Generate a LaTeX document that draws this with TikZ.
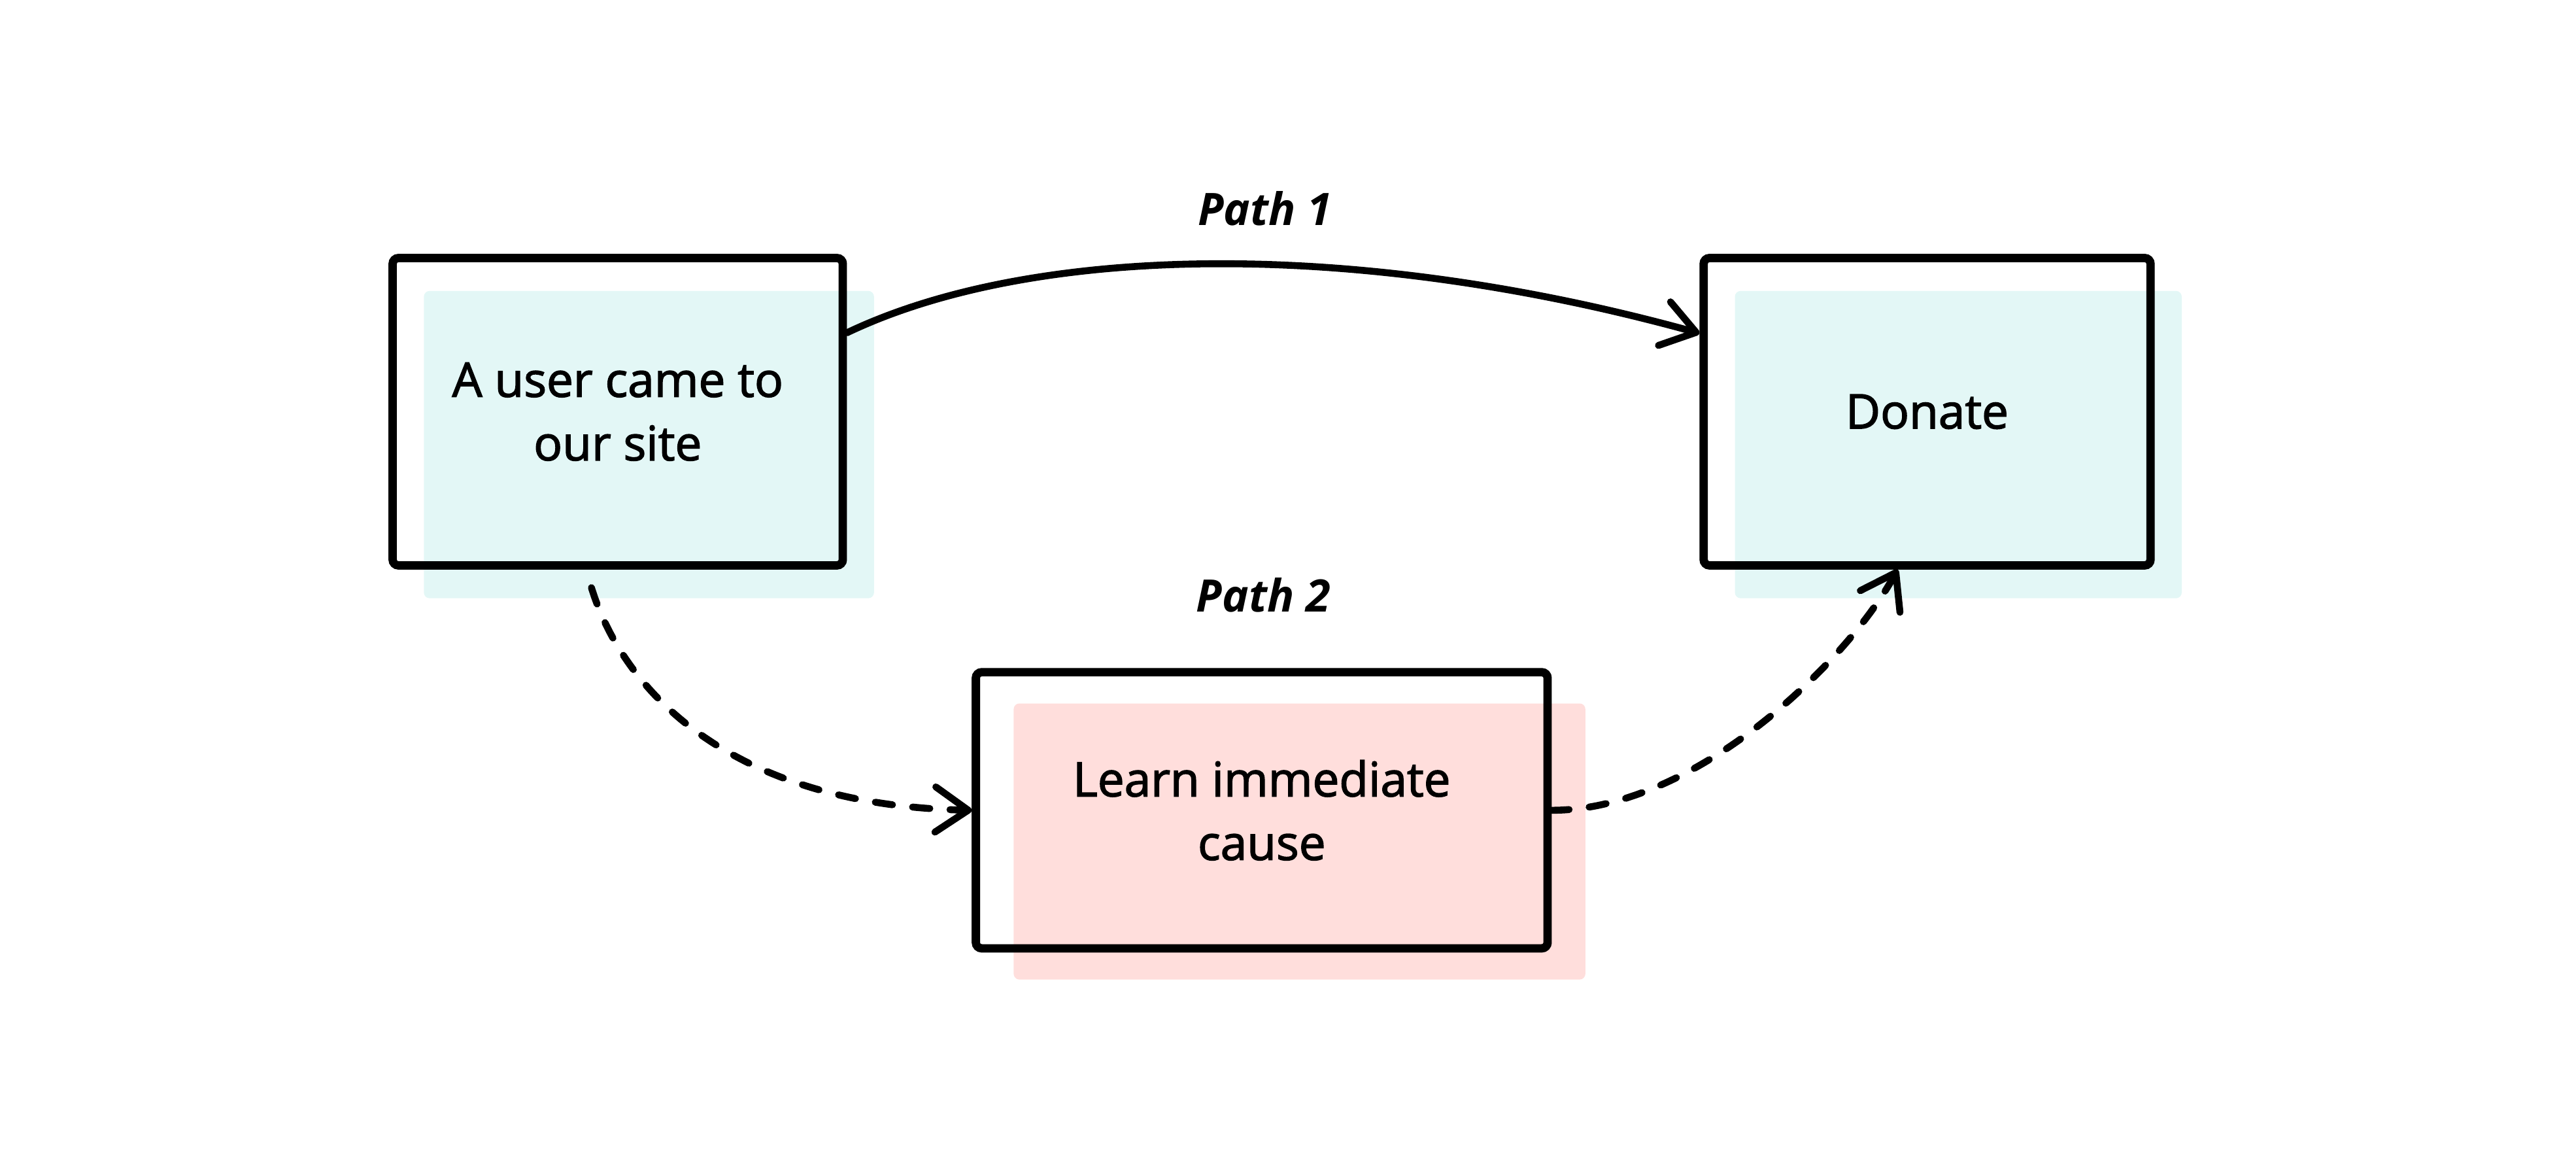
\documentclass[tikz,border=0pt]{standalone}
\usepackage{fontspec}
\setmainfont{Open Sans}
\newfontfamily\boxfont{Open Sans}[FakeBold=2]
\usetikzlibrary{arrows.meta,shadows}
\tikzset{>={Straight Barb[length=4mm,width=5.5mm,round]}}
\definecolor{tealbg}{HTML}{E3F7F6}
\definecolor{pinkbg}{HTML}{FFDEDC}

\begin{document}
\begin{tikzpicture}[box/.style={rectangle, draw=black, line width=2.9pt, rounded corners=2pt, align=center, font=\boxfont\fontsize{16.5}{22}\selectfont},
		tealbox/.style={box, general shadow={fill=tealbg, shadow xshift=.38cm, shadow yshift=-.4cm}, minimum height=3.74cm},
		pinkbox/.style={box, general shadow={fill=pinkbg, shadow xshift=.46cm, shadow yshift=-.38cm}, minimum width=6.96cm, minimum height=3.36cm},
		pathlabel/.style={font=\bfseries\itshape\fontsize{15.5}{18}\selectfont},
		flow/.style={line width=2.4pt, line cap=round},
		maybe/.style={flow, dash pattern=on 6pt off 7pt}]
		\useasboundingbox (0,0) rectangle (31.36,-14.1);
		\node[tealbox, minimum width=5.48cm] (user) at (7.52,-5.01) {A user came to\\our site};
		\node[tealbox, minimum width=5.44cm] (donate) at (23.46,-5.01) {Donate};
		\node[pinkbox] (learn) at (15.36,-9.86) {Learn immediate\\cause};
		\node[pathlabel] (p1) at (15.4,-2.54) {Path 1};
		\node[pathlabel] (p2) at (15.38,-7.24) {Path 2};
		\coordinate (ustart) at ([xshift=-0.32cm,yshift=-0.22cm]user.south);
		\coordinate (dend) at ([xshift=-0.36cm]donate.south);
		
		\draw[flow,->] (user.19) .. controls +(2.24,1.07) and +(-4.24,1.17) .. (donate.161);
		\draw[maybe,->] (ustart) .. controls +(0.4,-1.3) and +(-2.88,0.06) .. (learn.west);
		\draw[maybe,->] (learn.east) .. controls +(1.76,0) and +(-0.6,-1.1) .. (dend);
		
	\end{tikzpicture}
\end{document}
